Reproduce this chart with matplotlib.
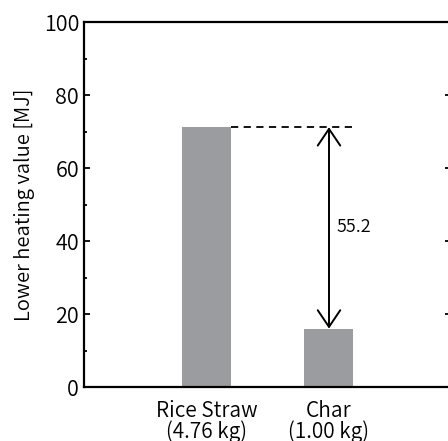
import matplotlib.pyplot as plt

plt.rcParams['font.family'] = ['Noto Sans CJK JP', 'DejaVu Sans']
plt.rcParams['font.weight'] = 350
plt.rcParams['axes.labelweight'] = 350

# data
labels = ['Rice Straw\n(4.76 kg)', 'Char\n(1.00 kg)']
lhv = [71.2, 16.0]
diff_label = '55.2'

fig = plt.figure(figsize=(4.48, 4.41), dpi=100)
ax = fig.add_axes([0.1875, 0.1224, 0.8203, 0.8276])

x = [1, 2]
ax.bar(x, lhv, width=0.4, color='#9b9ca0', zorder=2)

# dashed reference line from straw bar top to char position
ax.plot([x[0] + 0.2, x[1] + 0.2], [lhv[0], lhv[0]], ls=(0, (4, 3)), color='black', lw=1.3)

# difference arrow
ax.annotate('', xy=(x[1], lhv[1]), xytext=(x[1], lhv[0]),
            arrowprops=dict(arrowstyle='<->,head_length=0.4,head_width=0.27',
                            color='black', lw=1.4, mutation_scale=30,
                            shrinkA=0, shrinkB=0))
ax.text(x[1] + 0.06, 43.8, diff_label, fontsize=13, va='center', ha='left')

ax.set_xlim(0, 3)
ax.set_ylim(0, 100)
ax.set_xticks(x)
ax.set_xticklabels(labels, fontsize=15, linespacing=0.95)
ax.set_yticks([0, 20, 40, 60, 80, 100])
ax.set_yticks([10, 30, 50, 70, 90], minor=True)
ax.tick_params(axis='y', which='both', direction='in', right=True, labelsize=15.5, width=1.3)
ax.tick_params(axis='y', which='major', length=4)
ax.tick_params(axis='y', which='minor', length=2)
ax.tick_params(axis='x', length=0, pad=9)
ax.set_ylabel('Lower heating value [MJ]', fontsize=14.5, labelpad=6)
for s in ax.spines.values():
    s.set_linewidth(1.6)

fig.savefig('out.png', dpi=100)
